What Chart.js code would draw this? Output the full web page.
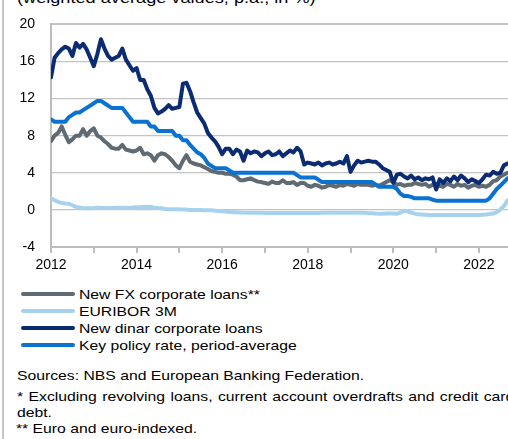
<!DOCTYPE html>
<html>
<head>
<meta charset="utf-8">
<script src="https://cdn.jsdelivr.net/npm/chart.js@4.4.1/dist/chart.umd.min.js"></script>
<style>
body { margin:0; width:508px; height:439px; overflow:hidden; position:relative; background:#fff; font-family:"Liberation Sans", Arial, sans-serif; color:#000; }
#frame { position:absolute; left:2px; top:0; width:2px; height:439px; background:#c6c6c6; }
.txt { position:absolute; white-space:nowrap; transform:scaleX(1.21); transform-origin:0 0; font-size:13px; line-height:17px; }
#title { font-size:15px; line-height:15px; left:17px; top:-10px; }
#chartBox { position:absolute; left:0; top:0; width:508px; height:278px; }
.key { position:absolute; left:21px; width:54px; height:4px; border-radius:2px; }
#fn1 { width:411px; text-align:justify; text-align-last:justify; white-space:normal; }
</style>
</head>
<body>
<div id="frame"></div>
<div id="title" class="txt">(weighted average values, p.a., in %)</div>
<div id="chartBox"><canvas id="chart" width="508" height="278"></canvas></div>
<div id="legend"></div>
<div class="txt" style="left:17px; top:367px;">Sources: NBS and European Banking Federation.</div>
<div id="fn1" class="txt" style="left:17px; top:388px;">* Excluding revolving loans, current account overdrafts and credit card</div>
<div class="txt" style="left:17px; top:404px;">debt.</div>
<div class="txt" style="left:16px; top:420px;">** Euro and euro-indexed.</div>
<script>
// monthly observations, Jan 2012 - Sep 2022
const startYear = 2012;
const tickYears = [2012, 2013, 2014, 2015, 2016, 2017, 2018, 2019, 2020, 2021, 2022];
const labelYears = [2012, 2014, 2016, 2018, 2020, 2022];
const yTicks = [-4, 0, 4, 8, 12, 16, 20];

const seriesNames = ['New FX corporate loans**', 'EURIBOR 3M', 'New dinar corporate loans', 'Key policy rate, period-average'];
const seriesColors = ['#5f6a72', '#a6d2ef', '#0b2c72', '#0a72d2'];

const fxLoans = [
  7.4, 8.0, 8.3, 9.0, 8.1, 7.3, 7.6, 8.0, 8.0, 8.7, 8.0, 8.5,
  8.8, 8.0, 7.8, 7.4, 7.1, 6.7, 6.6, 6.6, 7.0, 6.5, 6.4, 6.3,
  6.4, 6.7, 6.0, 6.1, 5.9, 5.3, 5.9, 6.1, 6.0, 5.7, 5.3, 4.8,
  4.5, 5.3, 5.9, 5.2, 5.0, 4.9, 4.8, 4.6, 4.4, 4.2, 4.1, 4.0,
  4.0, 3.9, 3.9, 3.8, 3.6, 3.2, 3.2, 3.3, 3.4, 3.2, 3.05, 3.0,
  2.9, 2.8, 3.05, 2.9, 2.9, 3.2, 2.9, 2.9, 3.0, 2.7, 2.9, 2.9,
  2.6, 2.5, 2.7, 2.6, 2.4, 2.5, 2.7, 2.6, 2.5, 2.7, 2.6, 2.8,
  2.7, 2.6, 2.8, 2.7, 2.7, 2.7, 2.6, 2.7, 2.6, 2.8, 3.0, 3.2,
  3.0, 2.7, 2.8, 2.6, 2.7, 2.7, 2.9, 2.8, 2.7, 2.8, 2.5, 2.7,
  2.8, 2.6, 2.5, 2.8, 2.7, 2.5, 2.8, 2.6, 2.7, 2.4, 2.6, 2.7,
  2.5, 2.6, 2.5, 2.7, 3.1, 3.2, 3.6, 3.8, 4.0
];
const euribor = [
  1.22, 1.05, 0.86, 0.74, 0.69, 0.66, 0.50, 0.33, 0.25, 0.21, 0.19, 0.19,
  0.20, 0.22, 0.21, 0.21, 0.20, 0.21, 0.22, 0.23, 0.22, 0.23, 0.22, 0.27,
  0.29, 0.29, 0.31, 0.33, 0.32, 0.24, 0.21, 0.19, 0.10, 0.08, 0.08, 0.08,
  0.06, 0.05, 0.03, 0.00, -0.01, -0.01, -0.02, -0.03, -0.04, -0.05, -0.09, -0.13,
  -0.15, -0.18, -0.23, -0.25, -0.26, -0.27, -0.29, -0.30, -0.30, -0.31, -0.31, -0.32,
  -0.33, -0.33, -0.33, -0.33, -0.33, -0.33, -0.33, -0.33, -0.33, -0.33, -0.33, -0.33,
  -0.33, -0.33, -0.33, -0.33, -0.32, -0.32, -0.32, -0.32, -0.32, -0.32, -0.32, -0.31,
  -0.31, -0.31, -0.31, -0.31, -0.31, -0.35, -0.37, -0.40, -0.42, -0.41, -0.40, -0.39,
  -0.39, -0.41, -0.30, -0.10, -0.15, -0.30, -0.40, -0.48, -0.50, -0.52, -0.55, -0.55,
  -0.55, -0.55, -0.55, -0.55, -0.55, -0.55, -0.55, -0.55, -0.55, -0.55, -0.55, -0.55,
  -0.56, -0.53, -0.50, -0.45, -0.39, -0.24, 0.04, 0.40, 1.01
];
const dinarLoans = [
  14.3, 16.4, 16.9, 17.3, 17.6, 17.4, 16.6, 18.0, 17.5, 17.9, 17.3, 16.4,
  15.5, 16.8, 18.4, 17.4, 16.6, 16.2, 16.4, 16.6, 17.4, 16.2, 15.6, 15.0,
  15.3, 14.0, 14.0, 13.0, 12.3, 11.0, 10.4, 10.6, 10.9, 11.3, 10.9, 11.0,
  11.1, 13.6, 13.7, 12.8, 11.6, 10.5, 9.9, 9.3, 8.3, 7.8, 7.4, 6.8,
  6.0, 6.6, 6.6, 6.0, 6.5, 6.3, 5.3, 6.4, 6.1, 6.3, 6.2, 5.8,
  6.1, 6.3, 5.9, 6.0, 6.3, 5.8, 6.1, 6.4, 6.2, 6.7, 6.3, 4.9,
  5.1, 5.0, 4.9, 5.1, 4.8, 5.0, 5.1, 4.9, 5.0, 5.2, 5.0, 5.8,
  4.1, 4.8, 5.3, 5.1, 5.2, 5.3, 5.2, 5.2, 4.9, 4.5, 4.3, 4.1,
  2.9, 3.8, 3.9, 3.6, 3.4, 3.7, 3.3, 3.5, 3.2, 3.4, 3.3, 3.5,
  2.2, 3.3, 2.9, 3.4, 3.1, 3.6, 3.2, 3.7, 3.4, 3.0, 3.3, 3.1,
  2.9, 3.3, 3.8, 3.7, 4.1, 3.9, 4.0, 4.8, 5.0
];
const keyRate = [
  9.75, 9.5, 9.5, 9.5, 9.5, 10.0, 10.25, 10.5, 10.5, 10.75, 11.0, 11.25,
  11.5, 11.75, 11.75, 11.5, 11.25, 11.0, 11.0, 11.0, 11.0, 10.5, 10.0, 9.5,
  9.5, 9.5, 9.5, 9.5, 9.0, 9.0, 8.5, 8.5, 8.5, 8.5, 8.5, 8.0,
  8.0, 7.5, 7.5, 7.0, 6.6, 6.2, 6.0, 5.6, 5.0, 4.75, 4.5, 4.5,
  4.5, 4.5, 4.25, 4.0, 4.0, 4.0, 4.0, 4.0, 4.0, 4.0, 4.0, 4.0,
  4.0, 4.0, 4.0, 4.0, 4.0, 4.0, 4.0, 4.0, 4.0, 3.75, 3.5, 3.5,
  3.5, 3.5, 3.5, 3.25, 3.0, 3.0, 3.0, 3.0, 3.0, 3.0, 3.0, 3.0,
  3.0, 3.0, 3.0, 3.0, 3.0, 3.0, 3.0, 2.75, 2.5, 2.5, 2.5, 2.5,
  2.5, 2.25, 1.75, 1.5, 1.5, 1.4, 1.25, 1.25, 1.25, 1.25, 1.25, 1.1,
  1.0, 1.0, 1.0, 1.0, 1.0, 1.0, 1.0, 1.0, 1.0, 1.0, 1.0, 1.0,
  1.0, 1.0, 1.0, 1.25, 1.75, 2.25, 2.6, 3.0, 3.4
];

const allSeries = [fxLoans, euribor, dinarLoans, keyRate];
const tickFont = { family: '"Liberation Sans", Arial, sans-serif', size: 14 };

function toPoints(values) {
  return values.map((v, i) => ({ x: startYear + i / 12, y: v }));
}

// legend (html, built from the series lists)
const legend = document.getElementById('legend');
seriesNames.forEach((name, i) => {
  const key = document.createElement('div');
  key.className = 'key';
  key.style.top = (292 + i * 17) + 'px';
  key.style.background = seriesColors[i];
  legend.appendChild(key);
  const label = document.createElement('div');
  label.className = 'txt';
  label.style.left = '79px';
  label.style.top = (286 + i * 17) + 'px';
  label.textContent = name;
  legend.appendChild(label);
});

new Chart(document.getElementById('chart'), {
  type: 'line',
  data: {
    datasets: allSeries.map((vals, i) => ({
      label: seriesNames[i],
      data: toPoints(vals),
      borderColor: seriesColors[i],
      backgroundColor: seriesColors[i],
      order: allSeries.length - i
    }))
  },
  options: {
    responsive: false,
    animation: false,
    devicePixelRatio: 1,
    layout: { padding: { top: 19, left: 0, right: 0, bottom: 0 } },
    plugins: { legend: { display: false }, tooltip: { enabled: false } },
    elements: {
      point: { radius: 0 },
      line: { borderWidth: 4, tension: 0, borderJoinStyle: 'round', borderCapStyle: 'round' }
    },
    scales: {
      x: {
        type: 'linear',
        min: 2012,
        max: 2022.68,
        afterBuildTicks: s => { s.ticks = tickYears.map(v => ({ value: v })); },
        afterFit: s => { s.height = 31; },
        grid: { drawOnChartArea: false, drawTicks: true, tickLength: 6, color: '#bdbdbd', lineWidth: 2 },
        border: { display: true, color: '#bdbdbd', width: 2 },
        ticks: {
          autoSkip: false, maxRotation: 0, padding: 4, color: '#000', font: tickFont,
          callback: v => labelYears.includes(v) ? String(v) : ''
        }
      },
      y: {
        min: -4,
        max: 20,
        afterBuildTicks: s => { s.ticks = yTicks.map(v => ({ value: v })); },
        afterFit: s => { s.width = 51; },
        grid: { drawTicks: false, color: '#c4c4c4', lineWidth: c => c.tick && c.tick.value === 20 ? 2 : 1.2 },
        border: { display: true, color: '#bdbdbd', width: 2 },
        ticks: { padding: 16, color: '#000', font: tickFont }
      }
    }
  }
});
</script>
</body>
</html>
